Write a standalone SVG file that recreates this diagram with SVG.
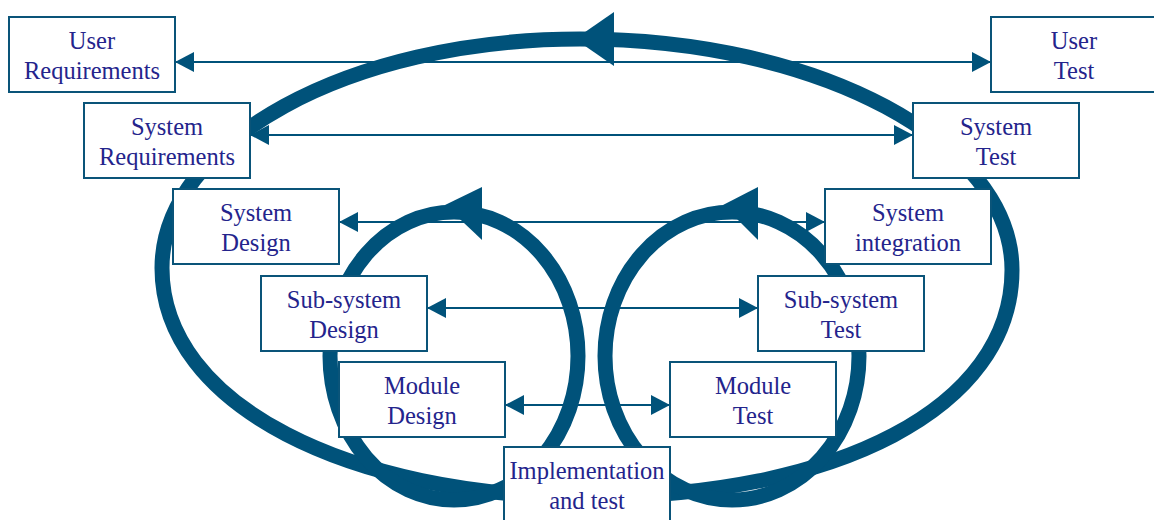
<svg xmlns="http://www.w3.org/2000/svg" width="1154" height="520" viewBox="0 0 1154 520">
  <style>
    .box { fill: #ffffff; stroke: #0a5479; stroke-width: 2; }
    .lbl { font-family: "Liberation Serif", "Times New Roman", serif; font-size: 24.5px; fill: #24248c; text-anchor: middle; }
    .conn { stroke: #00527a; stroke-width: 2; fill: none; marker-start: url(#ah); marker-end: url(#ah); }
    .loop { stroke: #00527a; stroke-width: 15; fill: none; }
    .head { fill: #00527a; }
  </style>
  <defs>
    <marker id="ah" viewBox="0 0 19 20" refX="19" refY="10" markerWidth="19" markerHeight="20" markerUnits="userSpaceOnUse" orient="auto-start-reverse">
      <path d="M0,0 L19,10 L0,20 z" fill="#00527a"/>
    </marker>
  </defs>

  <g id="connectors">
    <line class="conn" x1="175" y1="62" x2="991" y2="62"/>
    <line class="conn" x1="250" y1="135" x2="913" y2="135"/>
    <line class="conn" x1="339" y1="222" x2="825" y2="222"/>
    <line class="conn" x1="427" y1="308" x2="758" y2="308"/>
    <line class="conn" x1="505" y1="405" x2="670" y2="405"/>
  </g>

  <g id="loops">
    <path class="loop" d="M162,268 C162,141.5 349,39 580,39 C818.6,39 1012,142.4 1012,270 C1012,408 837,497 587,497 C352,497 162,406 162,268 Z"/>
    <polygon class="head" points="575,39 614,12 614,66"/>
    <ellipse class="loop" cx="454" cy="356" rx="124" ry="144"/>
    <polygon class="head" points="445,205 482,187 482,240"/>
    <ellipse class="loop" cx="732" cy="356" rx="127" ry="144"/>
    <polygon class="head" points="723,205 758,187 758,240"/>
  </g>

  <g id="user-requirements">
    <rect class="box" x="9" y="17" width="166" height="75"/>
    <text class="lbl" x="92" y="49">User</text>
    <text class="lbl" x="92" y="79">Requirements</text>
  </g>
  <g id="system-requirements">
    <rect class="box" x="84" y="103" width="166" height="75"/>
    <text class="lbl" x="167" y="135">System</text>
    <text class="lbl" x="167" y="165">Requirements</text>
  </g>
  <g id="system-design">
    <rect class="box" x="173" y="189" width="166" height="75"/>
    <text class="lbl" x="256" y="221">System</text>
    <text class="lbl" x="256" y="251">Design</text>
  </g>
  <g id="subsystem-design">
    <rect class="box" x="261" y="276" width="166" height="75"/>
    <text class="lbl" x="344" y="308">Sub-system</text>
    <text class="lbl" x="344" y="338">Design</text>
  </g>
  <g id="module-design">
    <rect class="box" x="339" y="362" width="166" height="75"/>
    <text class="lbl" x="422" y="394">Module</text>
    <text class="lbl" x="422" y="424">Design</text>
  </g>
  <g id="implementation">
    <rect class="box" x="504" y="447" width="166" height="80"/>
    <text class="lbl" x="587" y="479">Implementation</text>
    <text class="lbl" x="587" y="509">and test</text>
  </g>
  <g id="module-test">
    <rect class="box" x="670" y="362" width="166" height="75"/>
    <text class="lbl" x="753" y="394">Module</text>
    <text class="lbl" x="753" y="424">Test</text>
  </g>
  <g id="subsystem-test">
    <rect class="box" x="758" y="276" width="166" height="75"/>
    <text class="lbl" x="841" y="308">Sub-system</text>
    <text class="lbl" x="841" y="338">Test</text>
  </g>
  <g id="system-integration">
    <rect class="box" x="825" y="189" width="166" height="75"/>
    <text class="lbl" x="908" y="221">System</text>
    <text class="lbl" x="908" y="251">integration</text>
  </g>
  <g id="system-test">
    <rect class="box" x="913" y="103" width="166" height="75"/>
    <text class="lbl" x="996" y="135">System</text>
    <text class="lbl" x="996" y="165">Test</text>
  </g>
  <g id="user-test">
    <rect class="box" x="991" y="17" width="166" height="75"/>
    <text class="lbl" x="1074" y="49">User</text>
    <text class="lbl" x="1074" y="79">Test</text>
  </g>
</svg>
